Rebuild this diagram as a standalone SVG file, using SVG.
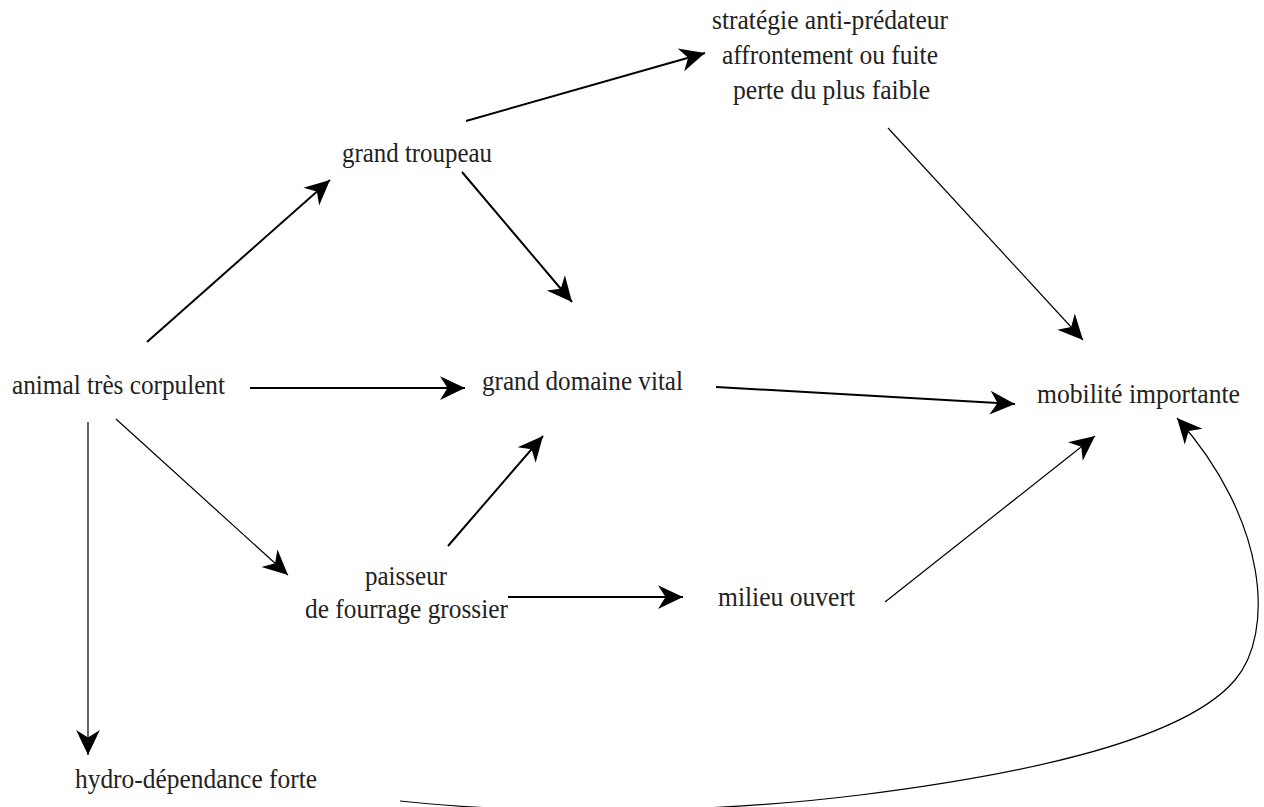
<svg xmlns="http://www.w3.org/2000/svg" width="1264" height="807" viewBox="0 0 1264 807">
<style>
text{font-family:"Liberation Serif","Times New Roman",serif;font-size:28px;fill:#222;}
.c{stroke:#000;fill:none;}
.t2{stroke-width:2;}
.t1{stroke-width:1.2;}
</style>
<defs>
<marker id="ah" markerUnits="userSpaceOnUse" markerWidth="30" markerHeight="30" viewBox="-22 -11 24 22" refX="0" refY="0" orient="auto">
<path d="M0,0 L-20,-9.5 L-14,0 L-20,9.5 Z" fill="#000"/>
</marker>
</defs>
<rect width="1264" height="807" fill="#fff"/>
<g id="connectors">
<line class="c t2" x1="147" y1="342" x2="330" y2="180" marker-end="url(#ah)"/>
<line class="c t2" x1="462" y1="172" x2="572" y2="302" marker-end="url(#ah)"/>
<line class="c t2" x1="466" y1="121" x2="705" y2="53" marker-end="url(#ah)"/>
<line class="c t1" x1="888" y1="128" x2="1083" y2="340" marker-end="url(#ah)"/>
<line class="c t2" x1="250" y1="388" x2="465" y2="388" marker-end="url(#ah)"/>
<line class="c t2" x1="716" y1="387" x2="1015" y2="404" marker-end="url(#ah)"/>
<line class="c t2" x1="448" y1="546" x2="543" y2="436" marker-end="url(#ah)"/>
<line class="c t1" x1="116" y1="419" x2="288" y2="575" marker-end="url(#ah)"/>
<line class="c t1" x1="88" y1="422" x2="88" y2="755" marker-end="url(#ah)"/>
<line class="c t2" x1="508" y1="597" x2="683" y2="597" marker-end="url(#ah)"/>
<line class="c t1" x1="885" y1="602" x2="1095" y2="436" marker-end="url(#ah)"/>
<path class="c t1" d="M400,801 C520,814 700,815 860,795 C1000,777.5 1180,745 1235,680 C1275,633 1268,520 1177,418" marker-end="url(#ah)"/>
</g>
<g id="strategie">
<text x="712" y="29" textLength="236" lengthAdjust="spacingAndGlyphs">stratégie anti-prédateur</text>
<text x="722" y="64" textLength="216" lengthAdjust="spacingAndGlyphs">affrontement ou fuite</text>
<text x="733" y="99" textLength="197" lengthAdjust="spacingAndGlyphs">perte du plus faible</text>
</g>
<g id="troupeau"><text x="342" y="162" textLength="150" lengthAdjust="spacingAndGlyphs">grand troupeau</text></g>
<g id="animal"><text x="12" y="394" textLength="213" lengthAdjust="spacingAndGlyphs">animal très corpulent</text></g>
<g id="domaine"><text x="482" y="390" textLength="201" lengthAdjust="spacingAndGlyphs">grand domaine vital</text></g>
<g id="mobilite"><text x="1037" y="403" textLength="203" lengthAdjust="spacingAndGlyphs">mobilité importante</text></g>
<g id="paisseur">
<text x="365" y="585" textLength="82" lengthAdjust="spacingAndGlyphs">paisseur</text>
<text x="305" y="618" textLength="203" lengthAdjust="spacingAndGlyphs">de fourrage grossier</text>
</g>
<g id="milieu"><text x="718" y="606" textLength="137" lengthAdjust="spacingAndGlyphs">milieu ouvert</text></g>
<g id="hydro"><text x="75" y="788" textLength="242" lengthAdjust="spacingAndGlyphs">hydro-dépendance forte</text></g>
</svg>
